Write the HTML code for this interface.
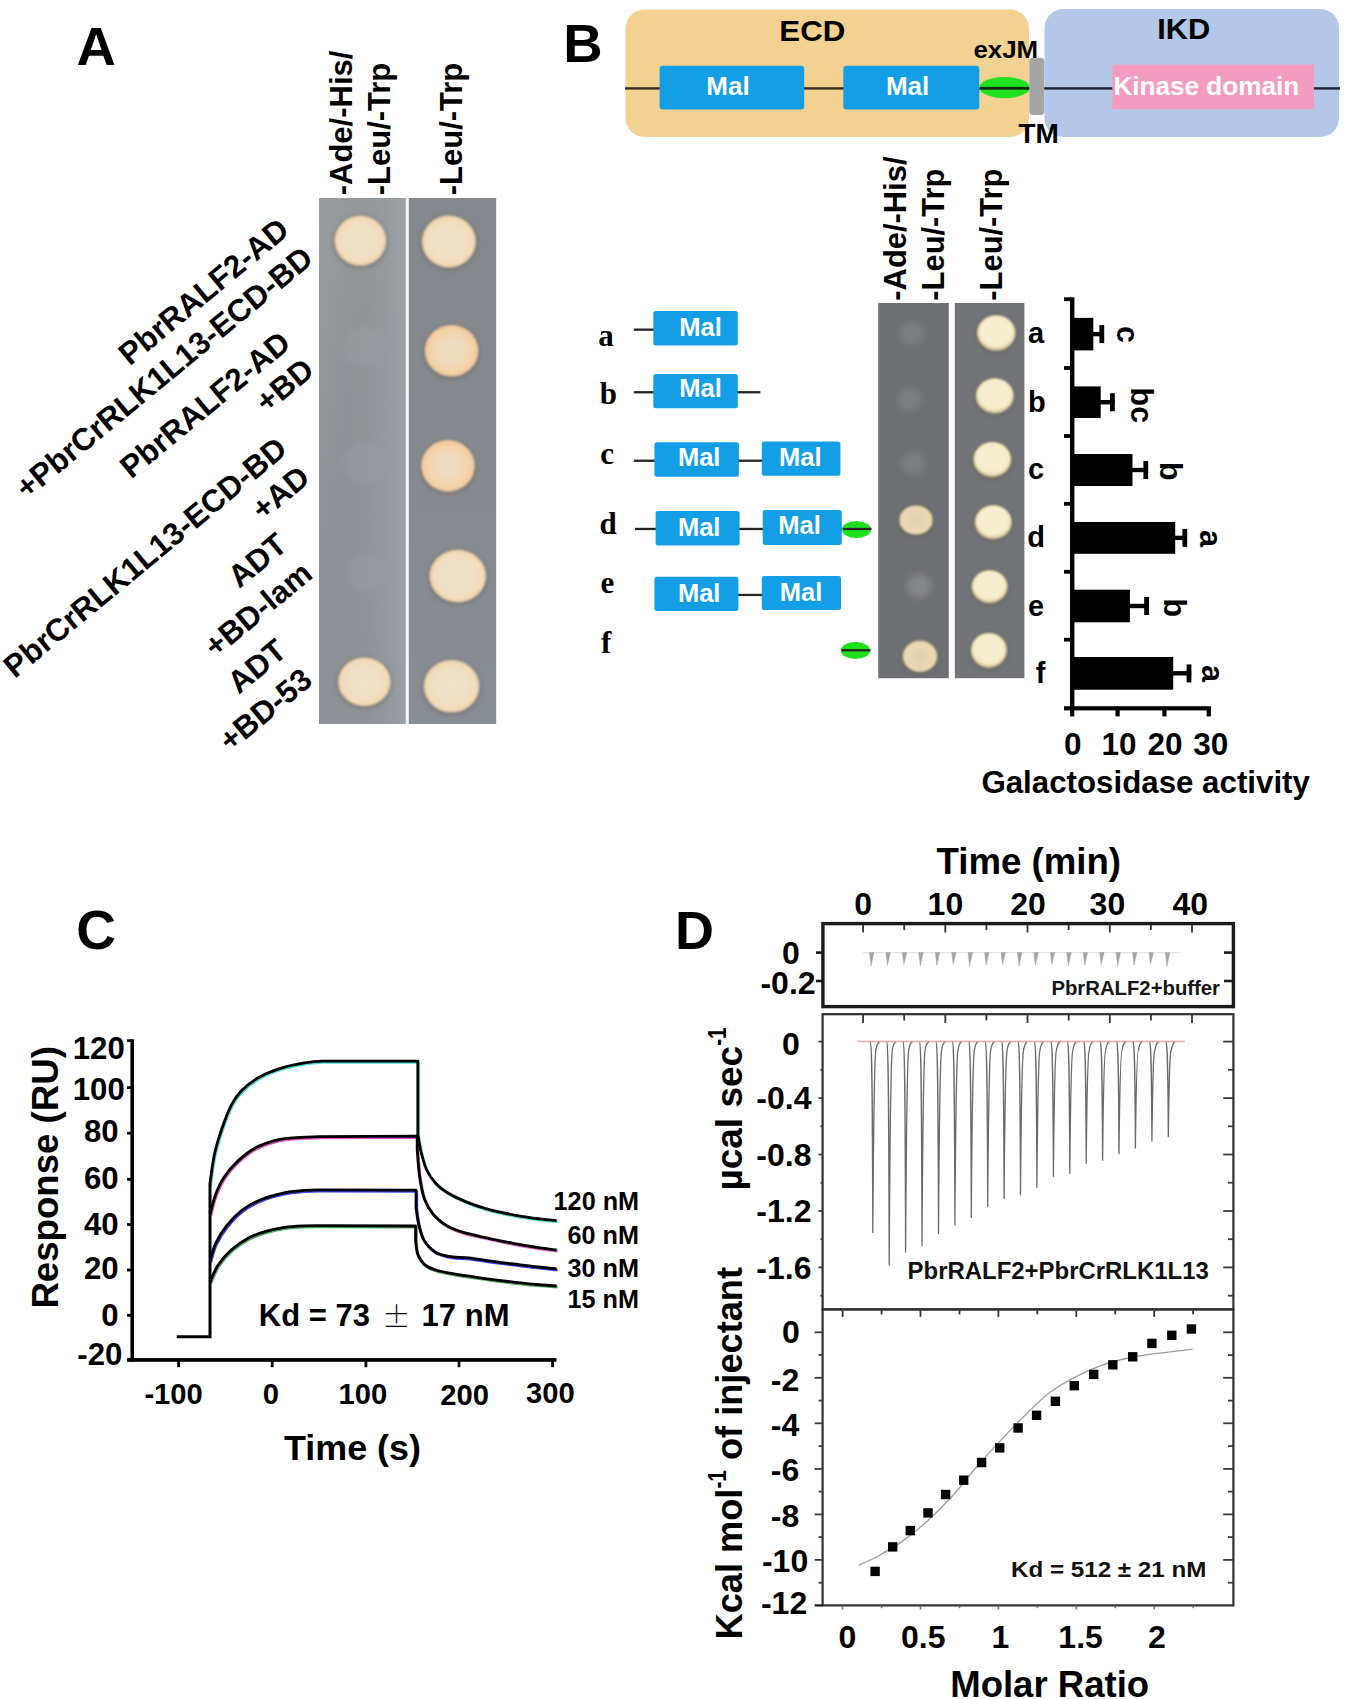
<!DOCTYPE html>
<html lang="en"><head><meta charset="utf-8"><title>Figure</title>
<style>html,body{margin:0;padding:0;background:#fff}svg{display:block}text{font-family:"Liberation Sans", sans-serif;font-weight:bold;fill:#000}</style></head><body>
<svg width="1350" height="1699" viewBox="0 0 1350 1699">
<defs>
<filter id="b1" x="-20%" y="-20%" width="140%" height="140%"><feGaussianBlur stdDeviation="0.8"/></filter>
<filter id="b2" x="-30%" y="-30%" width="160%" height="160%"><feGaussianBlur stdDeviation="2"/></filter>
<filter id="b3" x="-40%" y="-40%" width="180%" height="180%"><feGaussianBlur stdDeviation="3"/></filter>
<filter id="b05"><feGaussianBlur stdDeviation="0.6"/></filter>
<radialGradient id="cream" cx=".5" cy=".5" r=".5"><stop offset="0" stop-color="#eee2cb"/><stop offset=".6" stop-color="#f0e0c5"/><stop offset=".88" stop-color="#f3dcb8"/><stop offset="1" stop-color="#d8c4a2"/></radialGradient>
<radialGradient id="orange" cx=".5" cy=".5" r=".5"><stop offset="0" stop-color="#ecdcc2"/><stop offset=".45" stop-color="#eed9bb"/><stop offset=".72" stop-color="#f3d5ae"/><stop offset=".92" stop-color="#f4cda2"/><stop offset="1" stop-color="#d9b592"/></radialGradient>
<radialGradient id="pale" cx=".5" cy=".45" r=".5"><stop offset="0" stop-color="#f4ecd0"/><stop offset=".7" stop-color="#f6efd0"/><stop offset=".92" stop-color="#f3e7bd"/><stop offset="1" stop-color="#cfc19a"/></radialGradient>
<radialGradient id="tan" cx=".5" cy=".5" r=".5"><stop offset="0" stop-color="#e2cfaa"/><stop offset=".6" stop-color="#e8d7b3"/><stop offset=".9" stop-color="#ebd9b4"/><stop offset="1" stop-color="#bca986"/></radialGradient>
<linearGradient id="pA1" x1="0" y1="0" x2="1" y2="1"><stop offset="0" stop-color="#9a9da0"/><stop offset=".35" stop-color="#8f9296"/><stop offset="1" stop-color="#8b8f95"/></linearGradient>
<linearGradient id="pA2" x1="0" y1="0" x2="0" y2="1"><stop offset="0" stop-color="#85888c"/><stop offset=".5" stop-color="#868a90"/><stop offset="1" stop-color="#888c93"/></linearGradient>
<linearGradient id="pA1h" x1="0" y1="0" x2="1" y2="0"><stop offset="0" stop-color="#fff" stop-opacity="0"/><stop offset=".3" stop-color="#fff" stop-opacity="0"/><stop offset=".55" stop-color="#fff" stop-opacity=".025"/><stop offset=".8" stop-color="#fff" stop-opacity=".08"/><stop offset="1" stop-color="#fff" stop-opacity=".15"/></linearGradient>
</defs>
<rect width="1350" height="1699" fill="#fff"/>
<g id="panelA">
<text x="76.5" y="64.8" font-size="54.5">A</text>
<text x="0" y="0" transform="translate(351.5,195.3) rotate(-90)" font-size="31">-Ade/-His/</text>
<text x="0" y="0" transform="translate(389.8,195.3) rotate(-90)" font-size="31">-Leu/-Trp</text>
<text x="0" y="0" transform="translate(462.0,195.3) rotate(-90)" font-size="31">-Leu/-Trp</text>
<rect x="319" y="198" width="87" height="526" fill="url(#pA1)"/>
<rect x="408.6" y="198" width="87.6" height="526" fill="url(#pA2)"/>
<rect x="319" y="198" width="87" height="526" fill="url(#pA1h)"/>
<rect x="405.8" y="198" width="2.6" height="526" fill="#f6f7f8"/>
<ellipse cx="363.6" cy="347.0" rx="21.0" ry="19.9" fill="#a0a3a7" opacity="0.3" filter="url(#b3)"/>
<ellipse cx="363.6" cy="463.0" rx="21.0" ry="19.9" fill="#a0a3a7" opacity="0.28" filter="url(#b3)"/>
<ellipse cx="367.0" cy="573.0" rx="20.0" ry="19.0" fill="#a0a3a7" opacity="0.28" filter="url(#b3)"/>
<ellipse cx="360.4" cy="241.8" rx="27.5" ry="26.7" fill="#5a5348" opacity=".35" filter="url(#b2)"/>
<ellipse cx="360.4" cy="240.6" rx="26.0" ry="25.2" fill="url(#cream)" filter="url(#b1)"/>
<ellipse cx="364.4" cy="683.0" rx="28.0" ry="26.0" fill="#5a5348" opacity=".35" filter="url(#b2)"/>
<ellipse cx="364.4" cy="681.8" rx="26.5" ry="24.5" fill="url(#cream)" filter="url(#b1)"/>
<ellipse cx="448.9" cy="242.7" rx="28.7" ry="27.7" fill="#5a5348" opacity=".35" filter="url(#b2)"/>
<ellipse cx="448.9" cy="241.5" rx="27.2" ry="26.2" fill="url(#cream)" filter="url(#b1)"/>
<ellipse cx="451.6" cy="351.9" rx="28.5" ry="27.5" fill="#5a5348" opacity=".35" filter="url(#b2)"/>
<ellipse cx="451.6" cy="350.7" rx="27.0" ry="26.0" fill="url(#orange)" filter="url(#b1)"/>
<ellipse cx="448.0" cy="467.0" rx="28.5" ry="27.5" fill="#5a5348" opacity=".35" filter="url(#b2)"/>
<ellipse cx="448.0" cy="465.8" rx="27.0" ry="26.0" fill="url(#orange)" filter="url(#b1)"/>
<ellipse cx="457.8" cy="577.2" rx="30.0" ry="28.0" fill="#5a5348" opacity=".35" filter="url(#b2)"/>
<ellipse cx="457.8" cy="576.0" rx="28.5" ry="26.5" fill="url(#cream)" filter="url(#b1)"/>
<ellipse cx="451.6" cy="687.4" rx="29.5" ry="28.0" fill="#5a5348" opacity=".35" filter="url(#b2)"/>
<ellipse cx="451.6" cy="686.2" rx="28.0" ry="26.5" fill="url(#cream)" filter="url(#b1)"/>
<text x="0" y="0" transform="translate(291.0,233.1) rotate(-39.6)" font-size="31.4" text-anchor="end">PbrRALF2-AD</text>
<text x="0" y="0" transform="translate(315.0,261.5) rotate(-39.6)" font-size="31.4" text-anchor="end">+PbrCrRLK1L13-ECD-BD</text>
<text x="0" y="0" transform="translate(292.4,346.2) rotate(-39.6)" font-size="31.4" text-anchor="end">PbrRALF2-AD</text>
<text x="0" y="0" transform="translate(315.9,373.4) rotate(-39.6)" font-size="31.4" text-anchor="end">+BD</text>
<text x="0" y="0" transform="translate(289.0,452.1) rotate(-39.6)" font-size="31.4" text-anchor="end">PbrCrRLK1L13-ECD-BD</text>
<text x="0" y="0" transform="translate(311.7,480.8) rotate(-39.6)" font-size="31.4" text-anchor="end">+AD</text>
<text x="0" y="0" transform="translate(289.0,548.0) rotate(-39.6)" font-size="31.4" text-anchor="end">ADT</text>
<text x="0" y="0" transform="translate(314.2,576.8) rotate(-39.6)" font-size="31.4" text-anchor="end">+BD-lam</text>
<text x="0" y="0" transform="translate(288.5,654.0) rotate(-39.6)" font-size="31.4" text-anchor="end">ADT</text>
<text x="0" y="0" transform="translate(314.2,683.2) rotate(-39.6)" font-size="31.4" text-anchor="end">+BD-53</text>
</g>
<g id="panelB">
<text x="563.2" y="61.5" font-size="54.5">B</text>
<rect x="625.5" y="9.5" width="403.5" height="127.5" rx="19" fill="#f3d291"/>
<rect x="1044.5" y="9" width="294.5" height="128" rx="19" fill="#b4c7e8"/>
<rect x="625" y="87.2" width="404" height="2.4" fill="#3b2a1f"/>
<rect x="1044" y="87.2" width="296" height="2.4" fill="#1c2233"/>
<rect x="659.6" y="65.8" width="144.6" height="43.8" rx="3" fill="#149ee6"/>
<rect x="843.3" y="65.8" width="136" height="43.8" rx="3" fill="#149ee6"/>
<ellipse cx="1004.6" cy="87.6" rx="25.2" ry="10.6" fill="#1fe11f"/>
<rect x="980" y="86.9" width="50" height="2.8" fill="#142a10"/>
<rect x="1029.3" y="57.8" width="15" height="57.2" rx="3.5" fill="#a5a5a5"/>
<rect x="1112.4" y="64.6" width="201.6" height="44.6" fill="#f49cc0"/>
<text x="812.3" y="41.0" font-size="29.5" text-anchor="middle" textLength="66.0" lengthAdjust="spacingAndGlyphs">ECD</text>
<text x="1183.8" y="38.6" font-size="29.5" text-anchor="middle" textLength="53.0" lengthAdjust="spacingAndGlyphs">IKD</text>
<text x="973.4" y="57.8" font-size="23" textLength="64.8" lengthAdjust="spacingAndGlyphs">exJM</text>
<text x="1018.4" y="142.8" font-size="28">TM</text>
<text x="728.0" y="94.8" font-size="26" text-anchor="middle" style='fill:#fff;'>Mal</text>
<text x="907.6" y="95.4" font-size="26" text-anchor="middle" style='fill:#fff;'>Mal</text>
<text x="1113.4" y="95.4" font-size="26" style='fill:#fff;' textLength="185.8" lengthAdjust="spacingAndGlyphs">Kinase domain</text>
<text x="0" y="0" transform="translate(905.8,300.7) rotate(-90)" font-size="30.9">-Ade/-His/</text>
<text x="0" y="0" transform="translate(943.6,300.7) rotate(-90)" font-size="30.9">-Leu/-Trp</text>
<text x="0" y="0" transform="translate(1002.2,300.7) rotate(-90)" font-size="30.9">-Leu/-Trp</text>
<rect x="633.8" y="328.5" width="20.2" height="2.3" fill="#2a2420"/>
<rect x="653.3" y="311" width="84.5" height="34.6" rx="2.5" fill="#149ee6"/>
<text x="700.6" y="335.6" font-size="25.5" text-anchor="middle" style='fill:#fff;'>Mal</text>
<rect x="633.8" y="391.1" width="126.6" height="2.3" fill="#2a2420"/>
<rect x="653.3" y="374" width="84.5" height="34.3" rx="2.5" fill="#149ee6"/>
<text x="700.6" y="396.8" font-size="25.5" text-anchor="middle" style='fill:#fff;'>Mal</text>
<rect x="633.8" y="459.6" width="128.2" height="2.3" fill="#2a2420"/>
<rect x="654.4" y="442.2" width="84.5" height="34.5" rx="2.5" fill="#149ee6"/>
<text x="699.2" y="466.2" font-size="25.5" text-anchor="middle" style='fill:#fff;'>Mal</text>
<rect x="761.8" y="441.5" width="78.6" height="34.3" rx="2.5" fill="#149ee6"/>
<text x="800.3" y="466.0" font-size="25.5" text-anchor="middle" style='fill:#fff;'>Mal</text>
<rect x="635" y="527.8" width="236.0" height="2.3" fill="#2a2420"/>
<rect x="655.6" y="511" width="84" height="34.6" rx="2.5" fill="#149ee6"/>
<text x="699.2" y="535.6" font-size="25.5" text-anchor="middle" style='fill:#fff;'>Mal</text>
<rect x="762.7" y="510" width="79.1" height="35" rx="2.5" fill="#149ee6"/>
<text x="799.5" y="534.4" font-size="25.5" text-anchor="middle" style='fill:#fff;'>Mal</text>
<ellipse cx="856.5" cy="529.5" rx="14.6" ry="8.6" fill="#1fe11f"/>
<rect x="843" y="527.8" width="28.5" height="2.3" fill="#2a2420"/>
<rect x="738" y="593.8" width="24.5" height="2.3" fill="#2a2420"/>
<rect x="654.4" y="576.7" width="84" height="34.3" rx="2.5" fill="#149ee6"/>
<text x="699.2" y="601.8" font-size="25.5" text-anchor="middle" style='fill:#fff;'>Mal</text>
<rect x="761.8" y="576" width="79.2" height="34" rx="2.5" fill="#149ee6"/>
<text x="801.0" y="600.7" font-size="25.5" text-anchor="middle" style='fill:#fff;'>Mal</text>
<ellipse cx="855.5" cy="650.6" rx="14.6" ry="8.5" fill="#1fe11f"/>
<rect x="841.5" y="649.1" width="29.0" height="2.3" fill="#2a2420"/>
<text x="598.3" y="346.0" font-size="31" style='font-family:"Liberation Serif", serif;'>a</text>
<text x="599.7" y="404.4" font-size="31" style='font-family:"Liberation Serif", serif;'>b</text>
<text x="600.3" y="464.4" font-size="31" style='font-family:"Liberation Serif", serif;'>c</text>
<text x="599.6" y="533.8" font-size="31" style='font-family:"Liberation Serif", serif;'>d</text>
<text x="600.6" y="593.3" font-size="31" style='font-family:"Liberation Serif", serif;'>e</text>
<text x="601.0" y="653.3" font-size="31" style='font-family:"Liberation Serif", serif;'>f</text>
<rect x="878.2" y="303" width="70.6" height="375.2" fill="#6f7073"/>
<rect x="954.8" y="303" width="69.6" height="375.2" fill="#727477"/>
<ellipse cx="911.9" cy="333.7" rx="12.0" ry="11.4" fill="#85878a" opacity="0.55" filter="url(#b3)"/>
<ellipse cx="909.6" cy="399.6" rx="12.0" ry="11.4" fill="#85878a" opacity="0.55" filter="url(#b3)"/>
<ellipse cx="913.3" cy="463.3" rx="12.0" ry="11.4" fill="#85878a" opacity="0.55" filter="url(#b3)"/>
<ellipse cx="919.3" cy="586.0" rx="12.0" ry="11.4" fill="#8e9092" opacity="0.7" filter="url(#b3)"/>
<ellipse cx="916.0" cy="521.2" rx="18.5" ry="16.3" fill="#5a5348" opacity=".35" filter="url(#b2)"/>
<ellipse cx="916.0" cy="520.0" rx="17.0" ry="14.8" fill="url(#tan)" filter="url(#b1)"/>
<ellipse cx="920.0" cy="657.5" rx="19.0" ry="17.5" fill="#5a5348" opacity=".35" filter="url(#b2)"/>
<ellipse cx="920.0" cy="656.3" rx="17.5" ry="16.0" fill="url(#tan)" filter="url(#b1)"/>
<ellipse cx="996.3" cy="334.2" rx="20.8" ry="19.3" fill="#5a5348" opacity=".35" filter="url(#b2)"/>
<ellipse cx="996.3" cy="333.0" rx="19.3" ry="17.8" fill="url(#pale)" filter="url(#b1)"/>
<ellipse cx="994.8" cy="397.1" rx="20.5" ry="19.1" fill="#5a5348" opacity=".35" filter="url(#b2)"/>
<ellipse cx="994.8" cy="395.9" rx="19.0" ry="17.6" fill="url(#pale)" filter="url(#b1)"/>
<ellipse cx="992.3" cy="460.8" rx="20.5" ry="19.1" fill="#5a5348" opacity=".35" filter="url(#b2)"/>
<ellipse cx="992.3" cy="459.6" rx="19.0" ry="17.6" fill="url(#pale)" filter="url(#b1)"/>
<ellipse cx="993.3" cy="523.4" rx="20.0" ry="18.5" fill="#5a5348" opacity=".35" filter="url(#b2)"/>
<ellipse cx="993.3" cy="522.2" rx="18.5" ry="17.0" fill="url(#pale)" filter="url(#b1)"/>
<ellipse cx="989.6" cy="587.9" rx="19.5" ry="18.0" fill="#5a5348" opacity=".35" filter="url(#b2)"/>
<ellipse cx="989.6" cy="586.7" rx="18.0" ry="16.5" fill="url(#pale)" filter="url(#b1)"/>
<ellipse cx="988.9" cy="651.6" rx="19.5" ry="19.0" fill="#5a5348" opacity=".35" filter="url(#b2)"/>
<ellipse cx="988.9" cy="650.4" rx="18.0" ry="17.5" fill="url(#pale)" filter="url(#b1)"/>
<text x="1028.0" y="342.6" font-size="29">a</text>
<text x="1028.0" y="411.8" font-size="29">b</text>
<text x="1028.0" y="478.9" font-size="29">c</text>
<text x="1027.2" y="547.4" font-size="29">d</text>
<text x="1028.0" y="615.7" font-size="29">e</text>
<text x="1035.8" y="683.4" font-size="29">f</text>
<rect x="1070" y="297.3" width="4.4" height="413" fill="#000"/>
<rect x="1064" y="706.2" width="147" height="4.2" fill="#000"/>
<rect x="1064" y="297.3" width="7" height="3.8" fill="#000"/>
<rect x="1064" y="366.1" width="7" height="3.8" fill="#000"/>
<rect x="1064" y="434.1" width="7" height="3.8" fill="#000"/>
<rect x="1064" y="501.9" width="7" height="3.8" fill="#000"/>
<rect x="1064" y="569.9" width="7" height="3.8" fill="#000"/>
<rect x="1064" y="637.8" width="7" height="3.8" fill="#000"/>
<rect x="1070.1" y="708" width="4.2" height="8.4" fill="#000"/>
<rect x="1115.5" y="708" width="4.2" height="8.4" fill="#000"/>
<rect x="1162.3" y="708" width="4.2" height="8.4" fill="#000"/>
<rect x="1206.7" y="708" width="4.2" height="8.4" fill="#000"/>
<rect x="1072" y="317.9" width="21.3" height="32.5" fill="#000"/>
<rect x="1092.3" y="331.9" width="11.7" height="4.4" fill="#000"/>
<rect x="1099.4" y="325.1" width="4.8" height="18" fill="#000"/>
<rect x="1072" y="386.4" width="28.7" height="31.6" fill="#000"/>
<rect x="1099.7" y="400.0" width="14.9" height="4.4" fill="#000"/>
<rect x="1110.0" y="393.2" width="4.8" height="18" fill="#000"/>
<rect x="1072" y="454" width="60.5" height="32.0" fill="#000"/>
<rect x="1131.5" y="467.8" width="16.5" height="4.4" fill="#000"/>
<rect x="1143.4" y="461.0" width="4.8" height="18" fill="#000"/>
<rect x="1072" y="522" width="103.2" height="31.8" fill="#000"/>
<rect x="1174.2" y="535.7" width="12.8" height="4.4" fill="#000"/>
<rect x="1182.4" y="528.9" width="4.8" height="18" fill="#000"/>
<rect x="1072" y="589.7" width="57.9" height="32.6" fill="#000"/>
<rect x="1128.9" y="603.8" width="19.9" height="4.4" fill="#000"/>
<rect x="1144.2" y="597.0" width="4.8" height="18" fill="#000"/>
<rect x="1072" y="657" width="101.2" height="32.7" fill="#000"/>
<rect x="1172.2" y="671.1" width="19.0" height="4.4" fill="#000"/>
<rect x="1186.6" y="664.4" width="4.8" height="18" fill="#000"/>
<text x="0" y="0" transform="translate(1116.6,326.0) rotate(90)" font-size="30.5">c</text>
<text x="0" y="0" transform="translate(1131.2,387.6) rotate(90)" font-size="30.5">bc</text>
<text x="0" y="0" transform="translate(1160.2,462.0) rotate(90)" font-size="30.5">b</text>
<text x="0" y="0" transform="translate(1199.6,530.0) rotate(90)" font-size="30.5">a</text>
<text x="0" y="0" transform="translate(1163.8,598.5) rotate(90)" font-size="30.5">b</text>
<text x="0" y="0" transform="translate(1201.5,665.0) rotate(90)" font-size="30.5">a</text>
<text x="1072.7" y="755.3" font-size="31.5" text-anchor="middle">0</text>
<text x="1118.9" y="755.3" font-size="31.5" text-anchor="middle">10</text>
<text x="1165.0" y="755.3" font-size="31.5" text-anchor="middle">20</text>
<text x="1210.8" y="755.3" font-size="31.5" text-anchor="middle">30</text>
<text x="981.4" y="792.8" font-size="30.5" textLength="328.5" lengthAdjust="spacingAndGlyphs">Galactosidase activity</text>
</g>
<g id="panelC">
<text x="76.3" y="948.7" font-size="55">C</text>
<rect x="130.4" y="1039.3" width="3.6" height="322.4" fill="#000"/>
<rect x="127" y="1358.1" width="429.5" height="3.7" fill="#000"/>
<rect x="127" y="1086.2" width="5" height="2.8" fill="#000"/>
<rect x="127" y="1131.8" width="5" height="2.8" fill="#000"/>
<rect x="127" y="1177.9" width="5" height="2.8" fill="#000"/>
<rect x="127" y="1223.1" width="5" height="2.8" fill="#000"/>
<rect x="127" y="1268.6" width="5" height="2.8" fill="#000"/>
<rect x="127" y="1313.9" width="5" height="2.8" fill="#000"/>
<rect x="127" y="1039.3" width="5" height="2.6" fill="#000"/>
<rect x="177.2" y="1360" width="2.8" height="7.2" fill="#000"/>
<rect x="270.8" y="1360" width="2.8" height="7.2" fill="#000"/>
<rect x="364.5" y="1360" width="2.8" height="7.2" fill="#000"/>
<rect x="457.6" y="1360" width="2.8" height="7.2" fill="#000"/>
<rect x="551.2" y="1360" width="2.8" height="7.2" fill="#000"/>
<text x="124.8" y="1058.8" font-size="31.2" text-anchor="end">120</text>
<text x="124.8" y="1099.7" font-size="31.2" text-anchor="end">100</text>
<text x="118.6" y="1142.2" font-size="31.2" text-anchor="end">80</text>
<text x="118.6" y="1188.6" font-size="31.2" text-anchor="end">60</text>
<text x="118.6" y="1234.6" font-size="31.2" text-anchor="end">40</text>
<text x="118.6" y="1279.0" font-size="31.2" text-anchor="end">20</text>
<text x="118.5" y="1325.7" font-size="31.2" text-anchor="end">0</text>
<text x="122.4" y="1365.0" font-size="31.2" text-anchor="end">-20</text>
<text x="173.6" y="1404.4" font-size="29.2" text-anchor="middle">-100</text>
<text x="270.8" y="1404.2" font-size="29.2" text-anchor="middle">0</text>
<text x="362.8" y="1403.6" font-size="29.2" text-anchor="middle">100</text>
<text x="464.6" y="1405.0" font-size="29.2" text-anchor="middle">200</text>
<text x="550.4" y="1402.8" font-size="29.2" text-anchor="middle">300</text>
<text x="0" y="0" transform="translate(58.3,1308.6) rotate(-90)" font-size="37.4" textLength="262.5" lengthAdjust="spacingAndGlyphs">Response (RU)</text>
<text x="284.0" y="1459.6" font-size="35.2" textLength="137.0" lengthAdjust="spacingAndGlyphs">Time (s)</text>
<path d="M210.0,1183.3C210.7,1178.5 212.4,1163.7 214.4,1154.4C216.4,1145.2 219.4,1135.9 222.2,1127.8C225.0,1119.7 227.8,1111.9 231.1,1105.6C234.4,1099.3 237.4,1094.8 242.2,1090.0C247.0,1085.2 253.3,1080.4 260.0,1076.7C266.7,1073.0 274.8,1070.1 282.2,1067.8C289.6,1065.5 297.8,1064.0 304.4,1062.9C311.0,1061.8 319.1,1061.4 322.0,1061.1L417.8,1061.1L417.8,1134.4C418.4,1137.4 419.6,1146.3 421.1,1152.2C422.6,1158.1 424.3,1164.8 426.7,1170.0C429.1,1175.2 432.3,1179.6 435.6,1183.3C438.9,1187.0 441.9,1189.2 446.7,1192.2C451.5,1195.2 457.7,1198.3 464.4,1201.1C471.1,1203.9 478.6,1206.6 486.7,1208.9C494.8,1211.2 505.1,1213.3 513.3,1214.9C521.4,1216.5 528.4,1217.4 535.6,1218.4C542.8,1219.4 553.2,1220.3 556.7,1220.7" fill="none" stroke="#28d8d0" stroke-width="2.6" stroke-linejoin="round" transform="translate(0.9,1.3)" opacity=".85"/>
<path d="M210.0,1214.4C210.9,1211.1 213.2,1200.7 215.6,1194.4C218.0,1188.1 220.7,1182.2 224.4,1176.7C228.1,1171.2 232.6,1165.9 237.8,1161.1C243.0,1156.3 249.3,1151.2 255.6,1147.8C261.9,1144.3 269.3,1142.1 275.6,1140.4C281.9,1138.7 286.2,1138.4 293.3,1137.8C300.4,1137.2 313.9,1136.8 318.0,1136.6L417.2,1136.2L417.2,1150.0C417.6,1154.5 418.4,1168.5 419.6,1176.7C420.8,1184.9 422.1,1192.6 424.4,1198.9C426.7,1205.2 429.6,1210.0 433.3,1214.4C437.0,1218.9 441.5,1222.5 446.7,1225.6C451.9,1228.6 457.7,1230.7 464.4,1232.7C471.1,1234.7 478.6,1236.0 486.7,1237.8C494.8,1239.6 505.1,1241.8 513.3,1243.3C521.4,1244.8 528.4,1246.0 535.6,1247.1C542.8,1248.2 553.2,1249.5 556.7,1250.0" fill="none" stroke="#e030c0" stroke-width="2.6" stroke-linejoin="round" transform="translate(0.9,1.3)" opacity=".85"/>
<path d="M210.0,1261.1C210.9,1258.1 212.8,1249.2 215.6,1243.3C218.4,1237.4 222.3,1231.1 226.7,1225.6C231.1,1220.0 236.6,1214.3 242.2,1210.0C247.8,1205.7 253.3,1202.8 260.0,1200.0C266.7,1197.2 274.8,1194.9 282.2,1193.3C289.6,1191.7 297.8,1191.0 304.4,1190.4C311.0,1189.8 319.1,1189.9 322.0,1189.8L416.0,1190.2L416.0,1207.8C416.5,1210.8 417.5,1220.0 418.9,1225.6C420.3,1231.1 421.6,1236.7 424.4,1241.1C427.2,1245.5 431.2,1249.6 435.6,1252.2C440.1,1254.8 445.6,1255.8 451.1,1256.7C456.7,1257.6 462.2,1257.1 468.9,1257.8C475.6,1258.5 483.7,1260.1 491.1,1261.1C498.5,1262.1 505.9,1263.1 513.3,1264.0C520.7,1264.9 528.4,1265.9 535.6,1266.7C542.8,1267.5 553.2,1268.5 556.7,1268.9" fill="none" stroke="#2020e0" stroke-width="2.6" stroke-linejoin="round" transform="translate(0.9,1.3)" opacity=".85"/>
<path d="M210.0,1282.2C211.3,1279.4 214.3,1271.0 217.8,1265.6C221.3,1260.2 225.9,1254.6 231.1,1250.0C236.3,1245.4 243.0,1241.0 248.9,1237.8C254.8,1234.6 260.8,1232.8 266.7,1231.1C272.6,1229.3 278.5,1228.2 284.4,1227.3C290.3,1226.4 295.9,1226.1 302.2,1225.8C308.5,1225.5 318.7,1225.6 322.0,1225.6L415.6,1226.0L415.6,1241.1C416.0,1243.3 416.3,1250.5 417.8,1254.4C419.3,1258.3 421.4,1261.8 424.4,1264.4C427.4,1267.0 431.2,1268.5 435.6,1270.0C440.1,1271.5 445.6,1272.3 451.1,1273.3C456.7,1274.3 462.2,1275.2 468.9,1276.2C475.6,1277.2 483.7,1278.3 491.1,1279.3C498.5,1280.3 505.9,1281.3 513.3,1282.2C520.7,1283.1 528.4,1283.8 535.6,1284.4C542.8,1285.0 553.2,1285.7 556.7,1286.0" fill="none" stroke="#30a040" stroke-width="2.6" stroke-linejoin="round" transform="translate(0.9,1.3)" opacity=".85"/>
<path d="M210.0,1183.3C210.7,1178.5 212.4,1163.7 214.4,1154.4C216.4,1145.2 219.4,1135.9 222.2,1127.8C225.0,1119.7 227.8,1111.9 231.1,1105.6C234.4,1099.3 237.4,1094.8 242.2,1090.0C247.0,1085.2 253.3,1080.4 260.0,1076.7C266.7,1073.0 274.8,1070.1 282.2,1067.8C289.6,1065.5 297.8,1064.0 304.4,1062.9C311.0,1061.8 319.1,1061.4 322.0,1061.1L417.8,1061.1L417.8,1134.4C418.4,1137.4 419.6,1146.3 421.1,1152.2C422.6,1158.1 424.3,1164.8 426.7,1170.0C429.1,1175.2 432.3,1179.6 435.6,1183.3C438.9,1187.0 441.9,1189.2 446.7,1192.2C451.5,1195.2 457.7,1198.3 464.4,1201.1C471.1,1203.9 478.6,1206.6 486.7,1208.9C494.8,1211.2 505.1,1213.3 513.3,1214.9C521.4,1216.5 528.4,1217.4 535.6,1218.4C542.8,1219.4 553.2,1220.3 556.7,1220.7" fill="none" stroke="#000" stroke-width="2.8" stroke-linejoin="round"/>
<path d="M210.0,1214.4C210.9,1211.1 213.2,1200.7 215.6,1194.4C218.0,1188.1 220.7,1182.2 224.4,1176.7C228.1,1171.2 232.6,1165.9 237.8,1161.1C243.0,1156.3 249.3,1151.2 255.6,1147.8C261.9,1144.3 269.3,1142.1 275.6,1140.4C281.9,1138.7 286.2,1138.4 293.3,1137.8C300.4,1137.2 313.9,1136.8 318.0,1136.6L417.2,1136.2L417.2,1150.0C417.6,1154.5 418.4,1168.5 419.6,1176.7C420.8,1184.9 422.1,1192.6 424.4,1198.9C426.7,1205.2 429.6,1210.0 433.3,1214.4C437.0,1218.9 441.5,1222.5 446.7,1225.6C451.9,1228.6 457.7,1230.7 464.4,1232.7C471.1,1234.7 478.6,1236.0 486.7,1237.8C494.8,1239.6 505.1,1241.8 513.3,1243.3C521.4,1244.8 528.4,1246.0 535.6,1247.1C542.8,1248.2 553.2,1249.5 556.7,1250.0" fill="none" stroke="#000" stroke-width="2.8" stroke-linejoin="round"/>
<path d="M210.0,1261.1C210.9,1258.1 212.8,1249.2 215.6,1243.3C218.4,1237.4 222.3,1231.1 226.7,1225.6C231.1,1220.0 236.6,1214.3 242.2,1210.0C247.8,1205.7 253.3,1202.8 260.0,1200.0C266.7,1197.2 274.8,1194.9 282.2,1193.3C289.6,1191.7 297.8,1191.0 304.4,1190.4C311.0,1189.8 319.1,1189.9 322.0,1189.8L416.0,1190.2L416.0,1207.8C416.5,1210.8 417.5,1220.0 418.9,1225.6C420.3,1231.1 421.6,1236.7 424.4,1241.1C427.2,1245.5 431.2,1249.6 435.6,1252.2C440.1,1254.8 445.6,1255.8 451.1,1256.7C456.7,1257.6 462.2,1257.1 468.9,1257.8C475.6,1258.5 483.7,1260.1 491.1,1261.1C498.5,1262.1 505.9,1263.1 513.3,1264.0C520.7,1264.9 528.4,1265.9 535.6,1266.7C542.8,1267.5 553.2,1268.5 556.7,1268.9" fill="none" stroke="#000" stroke-width="2.8" stroke-linejoin="round"/>
<path d="M210.0,1282.2C211.3,1279.4 214.3,1271.0 217.8,1265.6C221.3,1260.2 225.9,1254.6 231.1,1250.0C236.3,1245.4 243.0,1241.0 248.9,1237.8C254.8,1234.6 260.8,1232.8 266.7,1231.1C272.6,1229.3 278.5,1228.2 284.4,1227.3C290.3,1226.4 295.9,1226.1 302.2,1225.8C308.5,1225.5 318.7,1225.6 322.0,1225.6L415.6,1226.0L415.6,1241.1C416.0,1243.3 416.3,1250.5 417.8,1254.4C419.3,1258.3 421.4,1261.8 424.4,1264.4C427.4,1267.0 431.2,1268.5 435.6,1270.0C440.1,1271.5 445.6,1272.3 451.1,1273.3C456.7,1274.3 462.2,1275.2 468.9,1276.2C475.6,1277.2 483.7,1278.3 491.1,1279.3C498.5,1280.3 505.9,1281.3 513.3,1282.2C520.7,1283.1 528.4,1283.8 535.6,1284.4C542.8,1285.0 553.2,1285.7 556.7,1286.0" fill="none" stroke="#000" stroke-width="2.8" stroke-linejoin="round"/>
<path d="M176.8,1336.7H210V1183" fill="none" stroke="#000" stroke-width="3" stroke-linejoin="miter"/>
<text x="639.0" y="1210.4" font-size="25.2" text-anchor="end">120 nM</text>
<text x="639.0" y="1243.8" font-size="25.2" text-anchor="end">60 nM</text>
<text x="639.0" y="1276.8" font-size="25.2" text-anchor="end">30 nM</text>
<text x="639.0" y="1308.4" font-size="25.2" text-anchor="end">15 nM</text>
<text x="258.8" y="1325.8" font-size="31">Kd = 73 <tspan x="382.5" y="1327" font-size="28" style='font-family:"Noto Serif CJK SC","Liberation Serif",serif;font-weight:300'>±</tspan><tspan x="413" y="1325.8"> 17 nM</tspan></text>
</g>
<g id="panelD">
<text x="674.9" y="948.6" font-size="54">D</text>
<text x="936.6" y="874.2" font-size="36.2" textLength="184.4" lengthAdjust="spacingAndGlyphs">Time (min)</text>
<text x="863.2" y="914.6" font-size="32" text-anchor="middle">0</text>
<text x="945.4" y="914.6" font-size="32" text-anchor="middle">10</text>
<text x="1028.0" y="914.6" font-size="32" text-anchor="middle">20</text>
<text x="1107.4" y="914.6" font-size="32" text-anchor="middle">30</text>
<text x="1190.2" y="914.6" font-size="32" text-anchor="middle">40</text>
<rect x="822.9" y="923.6" width="410.5" height="83" fill="none" stroke="#1a1a1a" stroke-width="3.4"/>
<rect x="862.2" y="925" width="1.8" height="7.5" fill="#333"/>
<rect x="903.3" y="925" width="1.8" height="5" fill="#333"/>
<rect x="944.4" y="925" width="1.8" height="7.5" fill="#333"/>
<rect x="985.5" y="925" width="1.8" height="5" fill="#333"/>
<rect x="1026.6" y="925" width="1.8" height="7.5" fill="#333"/>
<rect x="1067.8" y="925" width="1.8" height="5" fill="#333"/>
<rect x="1108.9" y="925" width="1.8" height="7.5" fill="#333"/>
<rect x="1150.0" y="925" width="1.8" height="5" fill="#333"/>
<rect x="1191.1" y="925" width="1.8" height="7.5" fill="#333"/>
<rect x="816" y="951.3" width="7" height="2.6" fill="#1a1a1a"/>
<rect x="1224" y="951.3" width="9" height="2.6" fill="#1a1a1a"/>
<rect x="816" y="979.7" width="7" height="2.6" fill="#1a1a1a"/>
<rect x="1224" y="979.7" width="9" height="2.6" fill="#1a1a1a"/>
<text x="799.8" y="964.0" font-size="32" text-anchor="end">0</text>
<text x="815.6" y="994.2" font-size="32" text-anchor="end">-0.2</text>
<path d="M863,952.7H1180" stroke="#dedede" stroke-width="1" fill="none"/>
<path d="M869.5,952.6L873.9,952.6L871.0,966.0ZM885.9,952.6L890.3,952.6L887.4,965.2ZM902.4,952.6L906.8,952.6L903.9,964.4ZM918.8,952.6L923.2,952.6L920.3,966.0ZM935.3,952.6L939.7,952.6L936.8,965.2ZM951.7,952.6L956.1,952.6L953.2,964.4ZM968.1,952.6L972.5,952.6L969.6,966.0ZM984.6,952.6L989.0,952.6L986.1,965.2ZM1001.0,952.6L1005.4,952.6L1002.5,964.4ZM1017.5,952.6L1021.9,952.6L1019.0,966.0ZM1033.9,952.6L1038.3,952.6L1035.4,965.2ZM1050.3,952.6L1054.7,952.6L1051.8,964.4ZM1066.8,952.6L1071.2,952.6L1068.3,966.0ZM1083.2,952.6L1087.6,952.6L1084.7,965.2ZM1099.7,952.6L1104.1,952.6L1101.2,964.4ZM1116.1,952.6L1120.5,952.6L1117.6,966.0ZM1132.5,952.6L1136.9,952.6L1134.0,965.2ZM1149.0,952.6L1153.4,952.6L1150.5,964.4ZM1165.4,952.6L1169.8,952.6L1166.9,966.0Z" fill="#a4a4a4" stroke="#a4a4a4" stroke-width=".5"/>
<text x="1220.0" y="994.6" font-size="19.6" text-anchor="end" style='fill:#151515;' textLength="168.6" lengthAdjust="spacingAndGlyphs">PbrRALF2+buffer</text>
<rect x="822.6" y="1014.2" width="410.8" height="295.2" fill="none" stroke="#303030" stroke-width="2.2"/>
<rect x="862.2" y="1015" width="1.8" height="8" fill="#333"/>
<rect x="903.3" y="1015" width="1.8" height="5.5" fill="#333"/>
<rect x="944.4" y="1015" width="1.8" height="8" fill="#333"/>
<rect x="985.5" y="1015" width="1.8" height="5.5" fill="#333"/>
<rect x="1026.6" y="1015" width="1.8" height="8" fill="#333"/>
<rect x="1067.8" y="1015" width="1.8" height="5.5" fill="#333"/>
<rect x="1108.9" y="1015" width="1.8" height="8" fill="#333"/>
<rect x="1150.0" y="1015" width="1.8" height="5.5" fill="#333"/>
<rect x="1191.1" y="1015" width="1.8" height="8" fill="#333"/>
<rect x="818.4" y="1040.7" width="4.5" height="1.8" fill="#3c3c3c"/>
<rect x="1223.2" y="1040.7" width="10" height="1.8" fill="#3c3c3c"/>
<rect x="820.4" y="1068.9" width="2.5" height="1.8" fill="#3c3c3c"/>
<rect x="1228" y="1068.9" width="5.3" height="1.8" fill="#3c3c3c"/>
<rect x="818.4" y="1097.2" width="4.5" height="1.8" fill="#3c3c3c"/>
<rect x="1223.2" y="1097.2" width="10" height="1.8" fill="#3c3c3c"/>
<rect x="820.4" y="1125.4" width="2.5" height="1.8" fill="#3c3c3c"/>
<rect x="1228" y="1125.4" width="5.3" height="1.8" fill="#3c3c3c"/>
<rect x="818.4" y="1153.6" width="4.5" height="1.8" fill="#3c3c3c"/>
<rect x="1223.2" y="1153.6" width="10" height="1.8" fill="#3c3c3c"/>
<rect x="820.4" y="1181.8" width="2.5" height="1.8" fill="#3c3c3c"/>
<rect x="1228" y="1181.8" width="5.3" height="1.8" fill="#3c3c3c"/>
<rect x="818.4" y="1210.1" width="4.5" height="1.8" fill="#3c3c3c"/>
<rect x="1223.2" y="1210.1" width="10" height="1.8" fill="#3c3c3c"/>
<rect x="820.4" y="1238.3" width="2.5" height="1.8" fill="#3c3c3c"/>
<rect x="1228" y="1238.3" width="5.3" height="1.8" fill="#3c3c3c"/>
<rect x="818.4" y="1266.5" width="4.5" height="1.8" fill="#3c3c3c"/>
<rect x="1223.2" y="1266.5" width="10" height="1.8" fill="#3c3c3c"/>
<rect x="820.4" y="1294.8" width="2.5" height="1.8" fill="#3c3c3c"/>
<rect x="1228" y="1294.8" width="5.3" height="1.8" fill="#3c3c3c"/>
<text x="799.8" y="1054.8" font-size="32" text-anchor="end">0</text>
<text x="811.5" y="1108.9" font-size="32" text-anchor="end">-0.4</text>
<text x="811.5" y="1165.6" font-size="32" text-anchor="end">-0.8</text>
<text x="811.5" y="1222.2" font-size="32" text-anchor="end">-1.2</text>
<text x="811.5" y="1278.8" font-size="32" text-anchor="end">-1.6</text>
<path d="M870.3,1041.8C872.1,1043 872.4,1089.4 872.8,1233.0C873.6,1108.6 874.5,1056.9 875.9,1050C876.7,1044.5 877.9,1042.3 879.7,1041.8M886.7,1041.8C888.5,1043 888.8,1097.6 889.2,1265.7C890.0,1120.0 890.9,1059.5 892.3,1050C893.1,1044.5 894.3,1042.3 896.1,1041.8M903.1,1041.8C904.9,1043 905.2,1094.3 905.6,1252.6C906.4,1115.4 907.3,1058.5 908.7,1050C909.5,1044.5 910.7,1042.3 912.5,1041.8M919.5,1041.8C921.3,1043 921.6,1092.8 922.0,1246.3C922.8,1113.2 923.7,1058.0 925.1,1050C925.9,1044.5 927.1,1042.3 928.9,1041.8M936.0,1041.8C937.8,1043 938.1,1089.8 938.5,1234.3C939.3,1109.0 940.2,1057.0 941.6,1050C942.4,1044.5 943.6,1042.3 945.4,1041.8M952.4,1041.8C954.2,1043 954.5,1087.5 954.9,1225.4C955.7,1105.9 956.6,1056.3 958.0,1050C958.8,1044.5 960.0,1042.3 961.8,1041.8M968.8,1041.8C970.6,1043 970.9,1085.7 971.3,1217.9C972.1,1103.3 973.0,1055.7 974.4,1050C975.2,1044.5 976.4,1042.3 978.2,1041.8M985.2,1041.8C987.0,1043 987.3,1082.9 987.7,1207.0C988.5,1099.5 989.4,1054.8 990.8,1050C991.6,1044.5 992.8,1042.3 994.6,1041.8M1001.6,1041.8C1003.4,1043 1003.7,1080.9 1004.1,1199.0C1004.9,1096.7 1005.8,1054.2 1007.2,1050C1008.0,1044.5 1009.2,1042.3 1011.0,1041.8M1018.0,1041.8C1019.8,1043 1020.1,1080.0 1020.5,1195.2C1021.3,1095.4 1022.2,1053.9 1023.6,1050C1024.4,1044.5 1025.6,1042.3 1027.4,1041.8M1034.4,1041.8C1036.2,1043 1036.5,1078.1 1036.9,1187.7C1037.7,1092.7 1038.6,1053.3 1040.0,1050C1040.8,1044.5 1042.0,1042.3 1043.8,1041.8M1050.9,1041.8C1052.7,1043 1053.0,1075.4 1053.4,1177.0C1054.2,1089.0 1055.1,1052.4 1056.5,1050C1057.3,1044.5 1058.5,1042.3 1060.3,1041.8M1067.3,1041.8C1069.1,1043 1069.4,1074.6 1069.8,1173.8C1070.6,1087.9 1071.5,1052.2 1072.9,1050C1073.7,1044.5 1074.9,1042.3 1076.7,1041.8M1083.7,1041.8C1085.5,1043 1085.8,1072.1 1086.2,1163.7C1087.0,1084.3 1087.9,1051.4 1089.3,1050C1090.1,1044.5 1091.3,1042.3 1093.1,1041.8M1100.1,1041.8C1101.9,1043 1102.2,1071.4 1102.6,1160.7C1103.4,1083.3 1104.3,1051.1 1105.7,1050C1106.5,1044.5 1107.7,1042.3 1109.5,1041.8M1116.5,1041.8C1118.3,1043 1118.6,1069.8 1119.0,1154.2C1119.8,1081.0 1120.7,1050.6 1122.1,1050C1122.9,1044.5 1124.1,1042.3 1125.9,1041.8M1132.9,1041.8C1134.7,1043 1135.0,1068.3 1135.4,1148.6C1136.2,1079.0 1137.1,1050.2 1138.5,1050C1139.3,1044.5 1140.5,1042.3 1142.3,1041.8M1149.4,1041.8C1151.2,1043 1151.5,1066.6 1151.9,1141.6C1152.7,1076.6 1153.6,1049.6 1155.0,1050C1155.8,1044.5 1157.0,1042.3 1158.8,1041.8M1165.8,1041.8C1167.6,1043 1167.9,1065.5 1168.3,1137.3C1169.1,1075.1 1170.0,1049.3 1171.4,1050C1172.2,1044.5 1173.4,1042.3 1175.2,1041.8" stroke="#6a6a6a" stroke-width="1.3" fill="none"/>
<path d="M857.4,1041.5H1185" stroke="#f29a9a" stroke-width="1.3" fill="none" opacity=".85"/>
<text x="907.6" y="1279.2" font-size="24" style='fill:#111;' textLength="301.2" lengthAdjust="spacingAndGlyphs">PbrRALF2+PbrCrRLK1L13</text>
<text transform="translate(742.2,1190.6) rotate(-90)" font-size="37">µcal sec<tspan font-size="25.5" dy="-16.6" textLength="18.5" lengthAdjust="spacingAndGlyphs">-1</tspan></text>
<text transform="translate(742.4,1639.4) rotate(-90)" font-size="36.2">Kcal mol<tspan font-size="25.5" dy="-16.6" textLength="18.5" lengthAdjust="spacingAndGlyphs">-1</tspan><tspan dy="16.6"> of injectant</tspan></text>
<rect x="822.6" y="1309.4" width="410.8" height="296" fill="none" stroke="#303030" stroke-width="2.2"/>
<rect x="841.8" y="1606" width="1.6" height="3.6" fill="#777"/>
<rect x="841.7" y="1310.4" width="1.8" height="6.5" fill="#333"/>
<rect x="880.8" y="1606" width="1.6" height="2.2" fill="#777"/>
<rect x="880.7" y="1310.4" width="1.8" height="4" fill="#333"/>
<rect x="919.7" y="1606" width="1.6" height="3.6" fill="#777"/>
<rect x="919.6" y="1310.4" width="1.8" height="6.5" fill="#333"/>
<rect x="958.7" y="1606" width="1.6" height="2.2" fill="#777"/>
<rect x="958.6" y="1310.4" width="1.8" height="4" fill="#333"/>
<rect x="997.6" y="1606" width="1.6" height="3.6" fill="#777"/>
<rect x="997.5" y="1310.4" width="1.8" height="6.5" fill="#333"/>
<rect x="1036.5" y="1606" width="1.6" height="2.2" fill="#777"/>
<rect x="1036.4" y="1310.4" width="1.8" height="4" fill="#333"/>
<rect x="1075.5" y="1606" width="1.6" height="3.6" fill="#777"/>
<rect x="1075.4" y="1310.4" width="1.8" height="6.5" fill="#333"/>
<rect x="1114.5" y="1606" width="1.6" height="2.2" fill="#777"/>
<rect x="1114.3" y="1310.4" width="1.8" height="4" fill="#333"/>
<rect x="1153.4" y="1606" width="1.6" height="3.6" fill="#777"/>
<rect x="1153.3" y="1310.4" width="1.8" height="6.5" fill="#333"/>
<rect x="1192.4" y="1606" width="1.6" height="2.2" fill="#777"/>
<rect x="1192.2" y="1310.4" width="1.8" height="4" fill="#333"/>
<rect x="814.6" y="1331.4" width="8" height="1.8" fill="#3c3c3c"/>
<rect x="1223.2" y="1331.4" width="10" height="1.8" fill="#3c3c3c"/>
<rect x="818.6" y="1354.2" width="4" height="1.8" fill="#3c3c3c"/>
<rect x="1228" y="1354.2" width="5.3" height="1.8" fill="#3c3c3c"/>
<rect x="814.6" y="1376.9" width="8" height="1.8" fill="#3c3c3c"/>
<rect x="1223.2" y="1376.9" width="10" height="1.8" fill="#3c3c3c"/>
<rect x="818.6" y="1399.7" width="4" height="1.8" fill="#3c3c3c"/>
<rect x="1228" y="1399.7" width="5.3" height="1.8" fill="#3c3c3c"/>
<rect x="814.6" y="1422.4" width="8" height="1.8" fill="#3c3c3c"/>
<rect x="1223.2" y="1422.4" width="10" height="1.8" fill="#3c3c3c"/>
<rect x="818.6" y="1445.2" width="4" height="1.8" fill="#3c3c3c"/>
<rect x="1228" y="1445.2" width="5.3" height="1.8" fill="#3c3c3c"/>
<rect x="814.6" y="1468.0" width="8" height="1.8" fill="#3c3c3c"/>
<rect x="1223.2" y="1468.0" width="10" height="1.8" fill="#3c3c3c"/>
<rect x="818.6" y="1490.7" width="4" height="1.8" fill="#3c3c3c"/>
<rect x="1228" y="1490.7" width="5.3" height="1.8" fill="#3c3c3c"/>
<rect x="814.6" y="1513.5" width="8" height="1.8" fill="#3c3c3c"/>
<rect x="1223.2" y="1513.5" width="10" height="1.8" fill="#3c3c3c"/>
<rect x="818.6" y="1536.2" width="4" height="1.8" fill="#3c3c3c"/>
<rect x="1228" y="1536.2" width="5.3" height="1.8" fill="#3c3c3c"/>
<rect x="814.6" y="1559.0" width="8" height="1.8" fill="#3c3c3c"/>
<rect x="1223.2" y="1559.0" width="10" height="1.8" fill="#3c3c3c"/>
<rect x="818.6" y="1581.8" width="4" height="1.8" fill="#3c3c3c"/>
<rect x="1228" y="1581.8" width="5.3" height="1.8" fill="#3c3c3c"/>
<rect x="814.6" y="1604.3" width="8" height="2.2" fill="#1a1a1a"/>
<text x="799.8" y="1343.3" font-size="32" text-anchor="end">0</text>
<text x="799.2" y="1390.5" font-size="32" text-anchor="end">-2</text>
<text x="799.2" y="1435.9" font-size="32" text-anchor="end">-4</text>
<text x="799.2" y="1481.1" font-size="32" text-anchor="end">-6</text>
<text x="799.2" y="1526.5" font-size="32" text-anchor="end">-8</text>
<text x="808.2" y="1571.9" font-size="32" text-anchor="end">-10</text>
<text x="807.2" y="1613.9" font-size="32" text-anchor="end">-12</text>
<text x="847.4" y="1648.2" font-size="32" text-anchor="middle">0</text>
<text x="923.3" y="1648.2" font-size="32" text-anchor="middle">0.5</text>
<text x="1000.4" y="1648.2" font-size="32" text-anchor="middle">1</text>
<text x="1080.6" y="1648.2" font-size="32" text-anchor="middle">1.5</text>
<text x="1156.8" y="1648.2" font-size="32" text-anchor="middle">2</text>
<text x="950.2" y="1696.8" font-size="36.4" textLength="199.0" lengthAdjust="spacingAndGlyphs">Molar Ratio</text>
<path d="M858.7,1565.3C861.6,1563.9 869.2,1560.9 876.3,1557.0C883.4,1553.1 893.1,1547.8 901.5,1541.9C909.9,1536.0 918.3,1529.3 926.7,1521.7C935.1,1514.1 943.5,1505.7 951.9,1496.5C960.3,1487.3 968.7,1476.0 977.1,1466.3C985.5,1456.6 993.9,1447.5 1002.3,1438.6C1010.7,1429.7 1019.5,1420.6 1027.5,1412.8C1035.5,1405.0 1042.4,1398.0 1050.4,1392.0C1058.4,1386.0 1067.2,1381.3 1075.6,1376.9C1084.0,1372.5 1092.4,1368.7 1100.8,1365.6C1109.2,1362.5 1117.5,1360.4 1125.9,1358.5C1134.3,1356.6 1142.7,1355.4 1151.1,1354.2C1159.5,1353.0 1169.4,1352.0 1176.3,1351.2C1183.2,1350.4 1190.0,1349.5 1192.7,1349.2" fill="none" stroke="#9c9c9c" stroke-width="1.3"/>
<rect x="870.4" y="1566.7" width="9.4" height="9.4" fill="#050505"/>
<rect x="888.0" y="1542.2" width="9.4" height="9.4" fill="#050505"/>
<rect x="905.6" y="1525.9" width="9.4" height="9.4" fill="#050505"/>
<rect x="923.3" y="1508.2" width="9.4" height="9.4" fill="#050505"/>
<rect x="940.9" y="1489.8" width="9.4" height="9.4" fill="#050505"/>
<rect x="959.0" y="1475.5" width="9.4" height="9.4" fill="#050505"/>
<rect x="976.9" y="1457.8" width="9.4" height="9.4" fill="#050505"/>
<rect x="995.0" y="1443.2" width="9.4" height="9.4" fill="#050505"/>
<rect x="1013.4" y="1423.3" width="9.4" height="9.4" fill="#050505"/>
<rect x="1031.9" y="1410.6" width="9.4" height="9.4" fill="#050505"/>
<rect x="1050.7" y="1396.6" width="9.4" height="9.4" fill="#050505"/>
<rect x="1069.6" y="1381.0" width="9.4" height="9.4" fill="#050505"/>
<rect x="1089.0" y="1369.7" width="9.4" height="9.4" fill="#050505"/>
<rect x="1108.1" y="1360.1" width="9.4" height="9.4" fill="#050505"/>
<rect x="1128.0" y="1352.1" width="9.4" height="9.4" fill="#050505"/>
<rect x="1147.2" y="1338.7" width="9.4" height="9.4" fill="#050505"/>
<rect x="1167.1" y="1330.6" width="9.4" height="9.4" fill="#050505"/>
<rect x="1186.7" y="1324.3" width="9.4" height="9.4" fill="#050505"/>
<text x="1011.0" y="1576.8" font-size="22.4" style='fill:#111;' textLength="195.4" lengthAdjust="spacingAndGlyphs">Kd = 512 ± 21 nM</text>
</g>
</svg></body></html>
